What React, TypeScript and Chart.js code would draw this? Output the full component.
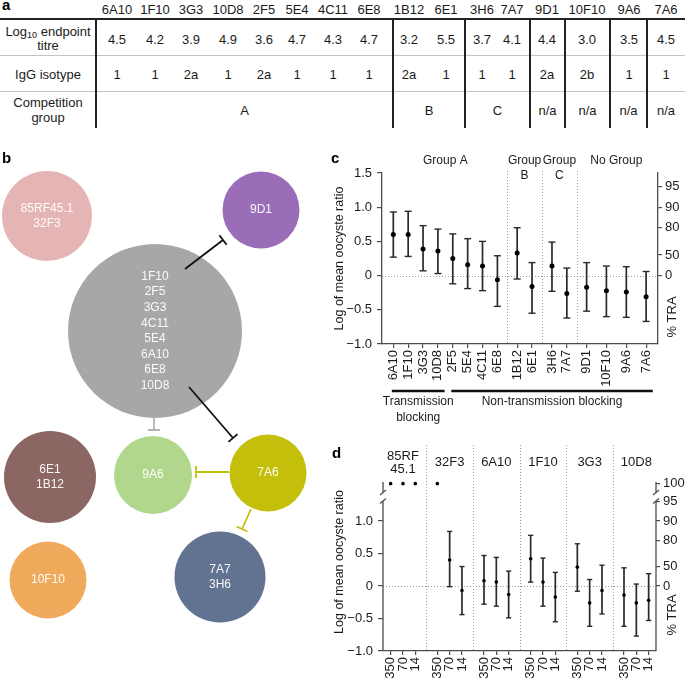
import React, { useEffect, useRef } from "react";
import { Chart, registerables } from "chart.js";

Chart.register(...registerables);

const FONT = "'Liberation Sans', Arial, Helvetica, sans-serif";
const INK = "#1b1b1b";
const BAR_INK = "#2a2a2a";
const AXIS_COLOR = "#4d4d4d";
const DOT_COLOR = "#9a9a9a";

/* ---------------- panel a : table ---------------- */
const tableAntibodies = ["6A10", "1F10", "3G3", "10D8", "2F5", "5E4", "4C11", "6E8", "1B12", "6E1", "3H6", "7A7", "9D1", "10F10", "9A6", "7A6"];
const tableTitre = ["4.5", "4.2", "3.9", "4.9", "3.6", "4.7", "4.3", "4.7", "3.2", "5.5", "3.7", "4.1", "4.4", "3.0", "3.5", "4.5"];
const tableIsotype = ["1", "1", "2a", "1", "2a", "1", "1", "1", "2a", "1", "1", "1", "2a", "2b", "1", "1"];
const competitionGroups = ["A", "B", "C", "n/a", "n/a", "n/a", "n/a"];

/* ---------------- panel b : competition network ---------------- */
const networkLabels = [
  ["85RF45.1", "32F3"],
  ["9D1"],
  ["1F10", "2F5", "3G3", "4C11", "5E4", "6A10", "6E8", "10D8"],
  ["6E1", "1B12"],
  ["9A6"],
  ["7A6"],
  ["10F10"],
  ["7A7", "3H6"],
];
const networkColors = ["#e5b4b4", "#9a6db9", "#a7a7a7", "#8b6662", "#b1d78c", "#c4bf0b", "#f0aa5c", "#627291"];

/* ---------------- panel c : single antibodies ---------------- */
const cAntibodies = ["6A10", "1F10", "3G3", "10D8", "2F5", "5E4", "4C11", "6E8", "1B12", "6E1", "3H6", "7A7", "9D1", "10F10", "9A6", "7A6"];
const cMean = [0.6, 0.6, 0.39, 0.36, 0.25, 0.16, 0.14, -0.06, 0.33, -0.16, 0.14, -0.26, -0.17, -0.22, -0.24, -0.31];
const cLow = [0.27, 0.28, 0.07, 0.03, -0.12, -0.19, -0.22, -0.45, -0.05, -0.55, -0.23, -0.62, -0.52, -0.6, -0.61, -0.67];
const cHigh = [0.93, 0.94, 0.73, 0.68, 0.61, 0.54, 0.5, 0.29, 0.7, 0.19, 0.49, 0.11, 0.19, 0.14, 0.13, 0.06];
const cPositions = [0, 1, 2, 3, 4, 5, 6, 7, 8.33, 9.33, 10.67, 11.67, 13, 14.33, 15.67, 17];
const cGroupNames = [["Group A"], ["Group", "B"], ["Group", "C"], ["No Group"]];
const cGroupSizes = [8, 2, 2, 4];
const cBlockingNames = [["Transmission", "blocking"], ["Non-transmission blocking"]];
const cBlockingSizes = [4, 12];
const cLeftTicks = [-1, -0.5, 0, 0.5, 1, 1.5];
const cTraTicks = [0, 50, 80, 90, 95];

/* ---------------- panel d : dose response ---------------- */
const dGroupNames = [["85RF", "45.1"], ["32F3"], ["6A10"], ["1F10"], ["3G3"], ["10D8"]];
const dDoses = ["350", "70", "14"];
const dMean = [null, null, null, null, 0.4, -0.07, 0.08, 0.06, -0.13, 0.42, 0.06, -0.17, 0.29, -0.26, -0.07, -0.14, -0.26, -0.22];
const dLow = [null, null, null, null, -0.01, -0.44, -0.28, -0.31, -0.49, 0.06, -0.31, -0.55, -0.08, -0.62, -0.43, -0.62, -0.77, -0.53];
const dHigh = [null, null, null, null, 0.84, 0.3, 0.47, 0.44, 0.23, 0.78, 0.43, 0.21, 0.65, 0.1, 0.32, 0.28, 0.03, 0.19];
const dFullBlock = [true, true, true, true, false, false, false, false, false, false, false, false, false, false, false, false, false, false];
const dPositions = [0, 1, 2, 3.785, 4.785, 5.785, 7.57, 8.57, 9.57, 11.355, 12.355, 13.355, 15.14, 16.14, 17.14, 18.925, 19.925, 20.925];
const dLeftTicks = [-1, -0.5, 0, 0.5, 1];
const dTraTicks = [0, 50, 80, 90, 95, 100];

/* ---------------- layout constants ---------------- */
const TABLE = {
  colX: [117, 155, 191, 228, 264, 297, 333, 369, 409, 446, 482, 512, 547, 587, 629, 666],
  dividers: [96, 393, 465, 530, 565, 610, 647],
  right: 685,
  headerY: 9,
  ruleY: 19,
  row1Y: 39,
  row2Y: 74,
  row3Y: 109.5,
  sep1: 55,
  sep2: 91,
  bottom: 128,
  labelX: 48,
};

const B_BOX = { left: 0, top: 140, width: 320, height: 539 };
const B_NODES = [
  { x: 47, y: 216, r: 45 },
  { x: 261, y: 210, r: 38.5 },
  { x: 155, y: 331, r: 87 },
  { x: 50, y: 477, r: 46 },
  { x: 153, y: 475, r: 39 },
  { x: 268, y: 473, r: 38.5 },
  { x: 48, y: 580, r: 38.5 },
  { x: 220, y: 577, r: 45.5 },
];
const B_EDGES = [
  { x1: 185, y1: 269, x2: 223, y2: 240, color: "#111111" },
  { x1: 189, y1: 387, x2: 233, y2: 438, color: "#111111" },
  { x1: 154, y1: 417, x2: 154, y2: 430, color: "#b3b3b3" },
  { x1: 229, y1: 472, x2: 196, y2: 472, color: "#c4bf0b" },
  { x1: 251, y1: 509, x2: 242, y2: 529, color: "#c4bf0b" },
];

const C_BOX = { left: 325, top: 140, width: 360, height: 290 };
const C_AREA = { left: 57, right: 333, top: 33, bottom: 204 };
const D_BOX = { left: 325, top: 430, width: 360, height: 249 };
const D_AREA = { left: 58, right: 331, top: 15, bottom: 221 };
const D_FULL = 1.575;
const D_BREAK_LOW = 1.31;
const D_BREAK_HIGH = 1.44;
const D_AXIS_TOP = 1.6;

function fmtLog(v: number) {
  if (Math.abs(v) < 1e-9) return "0";
  return (v < 0 ? "\u2212" : "") + Math.abs(v).toFixed(1);
}

function traToLog(p: number, top: number) {
  return p >= 100 ? top : -Math.log10(1 - p / 100);
}

function rotText(ctx: CanvasRenderingContext2D, text: string, x: number, y: number, size: number) {
  ctx.save();
  ctx.translate(x, y);
  ctx.rotate(-Math.PI / 2);
  ctx.font = `${size}px ${FONT}`;
  ctx.textAlign = "center";
  ctx.textBaseline = "middle";
  ctx.fillStyle = INK;
  ctx.fillText(text, 0, 0);
  ctx.restore();
}

function dotted(ctx: CanvasRenderingContext2D, x1: number, y1: number, x2: number, y2: number) {
  ctx.beginPath();
  ctx.moveTo(x1, y1);
  ctx.lineTo(x2, y2);
  ctx.stroke();
}

type ErrSpec = {
  canvas: HTMLCanvasElement;
  box: { width: number; height: number };
  area: { left: number; right: number; top: number; bottom: number };
  positions: number[];
  labels: string[];
  mean: (number | null)[];
  low: (number | null)[];
  high: (number | null)[];
  full?: boolean[];
  xMin: number;
  xMax: number;
  yMin: number;
  yMax: number;
  leftTicks: number[];
  traTicks: number[];
  showYBorder: boolean;
  dotR: number;
  capR: number;
  barW: number;
  decor: any;
};

function errorChart(s: ErrSpec) {
  const idx = s.positions.map((_, i) => i).filter((i) => s.mean[i] != null);
  const datasets: any[] = [
    {
      type: "bar",
      data: idx.map((i) => ({ x: s.positions[i], y: [s.low[i], s.high[i]] })),
      backgroundColor: BAR_INK,
      barThickness: s.barW,
      borderWidth: 0,
      inflateAmount: 0,
      order: 3,
    },
    {
      type: "scatter",
      data: idx.flatMap((i) => [
        { x: s.positions[i], y: s.low[i] },
        { x: s.positions[i], y: s.high[i] },
      ]),
      pointStyle: "line",
      pointRadius: s.capR,
      pointHoverRadius: s.capR,
      borderColor: BAR_INK,
      borderWidth: 1.4,
      order: 2,
    },
    {
      type: "scatter",
      data: idx.map((i) => ({ x: s.positions[i], y: s.mean[i] })),
      pointRadius: s.dotR,
      pointHoverRadius: s.dotR,
      backgroundColor: "#000",
      borderWidth: 0,
      order: 1,
    },
  ];
  if (s.full) {
    datasets.push({
      type: "scatter",
      data: s.positions.map((x, i) => (s.full![i] ? { x, y: D_FULL } : null)).filter(Boolean),
      pointRadius: s.dotR,
      pointHoverRadius: s.dotR,
      backgroundColor: "#000",
      borderWidth: 0,
      order: 1,
    });
  }
  const traVals = s.traTicks.map((p) => traToLog(p, D_FULL));
  const tickFont = { family: FONT, size: 13 };
  const gridCommon = { drawOnChartArea: false, drawTicks: true, color: AXIS_COLOR, lineWidth: 1.2 };
  return new Chart(s.canvas, {
    type: "bar",
    data: { datasets },
    options: {
      responsive: false,
      animation: false,
      events: [],
      devicePixelRatio: 1,
      layout: { autoPadding: false, padding: { top: s.area.top, left: 0, right: 0, bottom: 0 } },
      plugins: { legend: { display: false }, tooltip: { enabled: false } },
      scales: {
        x: {
          type: "linear",
          min: s.xMin,
          max: s.xMax,
          offset: false,
          grid: { ...gridCommon, tickLength: 4, offset: false },
          border: { display: true, color: AXIS_COLOR, width: 1.3 },
          ticks: {
            autoSkip: false,
            minRotation: 90,
            maxRotation: 90,
            padding: 2,
            color: INK,
            font: tickFont,
            callback: (_v: any, i: number) => s.labels[i],
          },
          afterBuildTicks: (sc: any) => {
            sc.ticks = s.positions.map((v) => ({ value: v }));
          },
          afterFit: (sc: any) => {
            sc.height = s.box.height - s.area.bottom;
          },
        },
        y: {
          type: "linear",
          position: "left",
          min: s.yMin,
          max: s.yMax,
          grid: { ...gridCommon, tickLength: 5 },
          border: { display: s.showYBorder, color: AXIS_COLOR, width: 1.3 },
          ticks: { padding: 5, color: INK, font: tickFont, callback: (v: any) => fmtLog(Number(v)) },
          afterBuildTicks: (sc: any) => {
            sc.ticks = s.leftTicks.map((v) => ({ value: v }));
          },
          afterFit: (sc: any) => {
            sc.width = s.area.left;
          },
        },
        y2: {
          type: "linear",
          position: "right",
          min: s.yMin,
          max: s.yMax,
          grid: { ...gridCommon, tickLength: 4 },
          border: { display: s.showYBorder, color: AXIS_COLOR, width: 1.3 },
          ticks: { padding: 3, color: INK, font: tickFont, callback: (_v: any, i: number) => String(s.traTicks[i]) },
          afterBuildTicks: (sc: any) => {
            sc.ticks = traVals.map((v) => ({ value: v }));
          },
          afterFit: (sc: any) => {
            sc.width = s.box.width - s.area.right;
          },
        },
      },
    } as any,
    plugins: [s.decor],
  });
}

function makePanelC(canvas: HTMLCanvasElement) {
  const seps: number[] = [];
  let acc = 0;
  cGroupSizes.forEach((n, g) => {
    acc += n;
    if (g < cGroupSizes.length - 1) seps.push((cPositions[acc - 1] + cPositions[acc]) / 2);
  });
  const decor = {
    id: "decorC",
    beforeDatasetsDraw(chart: any) {
      const { ctx, chartArea: ca, scales } = chart;
      const { x, y } = scales;
      ctx.save();
      ctx.strokeStyle = DOT_COLOR;
      ctx.lineWidth = 1;
      ctx.setLineDash([1, 2]);
      const y0 = Math.round(y.getPixelForValue(0)) + 0.5;
      dotted(ctx, ca.left, y0, ca.right, y0);
      seps.forEach((sv) => {
        const px = Math.round(x.getPixelForValue(sv)) + 0.5;
        dotted(ctx, px, ca.top - 2, px, ca.bottom);
      });
      ctx.restore();
    },
    afterDraw(chart: any) {
      const { ctx, chartArea: ca, scales } = chart;
      const { x } = scales;
      ctx.save();
      ctx.fillStyle = INK;
      ctx.textAlign = "center";
      ctx.textBaseline = "middle";
      ctx.font = `12px ${FONT}`;
      let start = 0;
      cGroupSizes.forEach((n, g) => {
        const cx = (x.getPixelForValue(cPositions[start]) + x.getPixelForValue(cPositions[start + n - 1])) / 2;
        cGroupNames[g].forEach((t, k) => ctx.fillText(t, cx, 21 + k * 15));
        start += n;
      });
      start = 0;
      ctx.strokeStyle = "#111";
      ctx.lineWidth = 2.6;
      cBlockingSizes.forEach((n, g) => {
        const x1 = x.getPixelForValue(cPositions[start] - 0.1);
        const x2 = x.getPixelForValue(cPositions[start + n - 1] + 0.45);
        ctx.beginPath();
        ctx.moveTo(x1, 251);
        ctx.lineTo(x2, 251);
        ctx.stroke();
        ctx.font = `12px ${FONT}`;
        cBlockingNames[g].forEach((t, k) => ctx.fillText(t, (x1 + x2) / 2, 262 + k * 16));
        start += n;
      });
      ctx.restore();
      rotText(ctx, "Log of mean oocyste ratio", 14.5, (ca.top + ca.bottom) / 2, 12.5);
      rotText(ctx, "% TRA", 347.5, 177, 13);
    },
  };
  return errorChart({
    canvas,
    box: C_BOX,
    area: C_AREA,
    positions: cPositions,
    labels: cAntibodies,
    mean: cMean,
    low: cLow,
    high: cHigh,
    xMin: -0.76,
    xMax: 17.8,
    yMin: -1,
    yMax: 1.5,
    leftTicks: cLeftTicks,
    traTicks: cTraTicks,
    showYBorder: true,
    dotR: 2.5,
    capR: 3.5,
    barW: 1.7,
    decor,
  });
}

function makePanelD(canvas: HTMLCanvasElement) {
  const seps: number[] = [];
  for (let g = 0; g < dGroupNames.length - 1; g++) {
    seps.push((dPositions[g * 3 + 2] + dPositions[g * 3 + 3]) / 2);
  }
  const labels = dPositions.map((_, i) => dDoses[i % dDoses.length]);
  const decor = {
    id: "decorD",
    beforeDatasetsDraw(chart: any) {
      const { ctx, chartArea: ca, scales } = chart;
      const { x, y } = scales;
      ctx.save();
      ctx.strokeStyle = DOT_COLOR;
      ctx.lineWidth = 1;
      ctx.setLineDash([1, 2]);
      const y0 = Math.round(y.getPixelForValue(0)) + 0.5;
      dotted(ctx, ca.left, y0, ca.right, y0);
      seps.forEach((sv) => {
        const px = Math.round(x.getPixelForValue(sv)) + 0.5;
        dotted(ctx, px, ca.top, px, ca.bottom);
      });
      ctx.restore();
    },
    afterDraw(chart: any) {
      const { ctx, chartArea: ca, scales } = chart;
      const { x, y } = scales;
      ctx.save();
      ctx.strokeStyle = AXIS_COLOR;
      ctx.lineWidth = 1.3;
      const pBottom = y.getPixelForValue(-1);
      const pLo = y.getPixelForValue(D_BREAK_LOW);
      const pHi = y.getPixelForValue(D_BREAK_HIGH);
      const pTop = y.getPixelForValue(D_AXIS_TOP);
      [ca.left, ca.right].forEach((px: number) => {
        ctx.beginPath();
        ctx.moveTo(px, pBottom);
        ctx.lineTo(px, pLo);
        ctx.moveTo(px, pHi);
        ctx.lineTo(px, pTop);
        ctx.stroke();
        [pLo, pHi].forEach((p: number) => {
          ctx.beginPath();
          ctx.moveTo(px - 3, p + 2.5);
          ctx.lineTo(px + 3, p - 2.5);
          ctx.stroke();
        });
      });
      ctx.fillStyle = INK;
      ctx.textAlign = "center";
      ctx.textBaseline = "middle";
      ctx.font = `13px ${FONT}`;
      dGroupNames.forEach((lines, g) => {
        const cx = x.getPixelForValue(dPositions[g * 3 + 1]);
        if (lines.length === 1) ctx.fillText(lines[0], cx, 32);
        else lines.forEach((t, k) => ctx.fillText(t, cx, 26 + k * 13));
      });
      ctx.restore();
      rotText(ctx, "Log of mean oocyste ratio", 14.5, 132, 12.5);
      rotText(ctx, "% TRA", 347.5, 185, 13);
    },
  };
  return errorChart({
    canvas,
    box: D_BOX,
    area: D_AREA,
    positions: dPositions,
    labels,
    mean: dMean,
    low: dLow,
    high: dHigh,
    full: dFullBlock,
    xMin: -0.62,
    xMax: 21.52,
    yMin: -1,
    yMax: 2.17,
    leftTicks: dLeftTicks,
    traTicks: dTraTicks,
    showYBorder: false,
    dotR: 1.8,
    capR: 2.6,
    barW: 1.7,
    decor,
  });
}

function makeNetwork(canvas: HTMLCanvasElement) {
  const decor = {
    id: "decorB",
    afterDatasetsDraw(chart: any) {
      const { ctx, scales } = chart;
      const { x, y } = scales;
      ctx.save();
      ctx.lineWidth = 1.8;
      B_EDGES.forEach((e) => {
        const x1 = x.getPixelForValue(e.x1);
        const y1 = y.getPixelForValue(e.y1);
        const x2 = x.getPixelForValue(e.x2);
        const y2 = y.getPixelForValue(e.y2);
        const len = Math.hypot(x2 - x1, y2 - y1);
        const px = (-(y2 - y1) / len) * 6;
        const py = ((x2 - x1) / len) * 6;
        ctx.strokeStyle = e.color;
        ctx.beginPath();
        ctx.moveTo(x1, y1);
        ctx.lineTo(x2, y2);
        ctx.moveTo(x2 - px, y2 - py);
        ctx.lineTo(x2 + px, y2 + py);
        ctx.stroke();
      });
      ctx.fillStyle = "rgba(255,255,255,0.94)";
      ctx.font = `12px ${FONT}`;
      ctx.textAlign = "center";
      ctx.textBaseline = "middle";
      const meta = chart.getDatasetMeta(0);
      meta.data.forEach((el: any, i: number) => {
        const lines = networkLabels[i];
        lines.forEach((t, k) => ctx.fillText(t, el.x, el.y + (k - (lines.length - 1) / 2) * 15.6));
      });
      ctx.restore();
    },
  };
  return new Chart(canvas, {
    type: "bubble",
    data: {
      datasets: [
        {
          data: B_NODES.map((n) => ({ x: n.x, y: n.y, r: n.r })),
          backgroundColor: networkColors,
          borderWidth: 0,
          hoverRadius: 0,
          hoverBorderWidth: 0,
        },
      ],
    },
    options: {
      responsive: false,
      animation: false,
      events: [],
      devicePixelRatio: 1,
      layout: { autoPadding: false, padding: 0 },
      plugins: { legend: { display: false }, tooltip: { enabled: false } },
      scales: {
        x: { type: "linear", display: false, min: B_BOX.left, max: B_BOX.left + B_BOX.width },
        y: { type: "linear", display: false, min: B_BOX.top, max: B_BOX.top + B_BOX.height, reverse: true },
      },
    } as any,
    plugins: [decor],
  });
}

const Txt = ({ x, y, children, size = 13, lh }: { x: number; y: number; children: any; size?: number; lh?: number }) => (
  <div
    style={{
      position: "absolute",
      left: x,
      top: y,
      transform: "translate(-50%, -50%)",
      fontSize: size,
      lineHeight: lh ? `${lh}px` : 1,
      whiteSpace: "nowrap",
      textAlign: "center",
      color: INK,
      fontFamily: FONT,
    }}
  >
    {children}
  </div>
);

const Letter = ({ x, y, t }: { x: number; y: number; t: string }) => (
  <div style={{ position: "absolute", left: x, top: y, fontSize: 15, lineHeight: "15px", fontWeight: 700, fontFamily: FONT, color: "#000" }}>{t}</div>
);

export default function App() {
  const bRef = useRef<HTMLCanvasElement>(null);
  const cRef = useRef<HTMLCanvasElement>(null);
  const dRef = useRef<HTMLCanvasElement>(null);

  useEffect(() => {
    const charts: Chart[] = [];
    if (bRef.current) charts.push(makeNetwork(bRef.current));
    if (cRef.current) charts.push(makePanelC(cRef.current));
    if (dRef.current) charts.push(makePanelD(dRef.current));
    return () => charts.forEach((c) => c.destroy());
  }, []);

  const bounds = [...TABLE.dividers, TABLE.right];

  return (
    <div
      style={{
        position: "absolute",
        left: 0,
        top: 0,
        width: 685,
        height: 679,
        background: "#fff",
        overflow: "hidden",
        fontFamily: FONT,
        color: INK,
      }}
    >
      {/* panel a table */}
      <div style={{ position: "absolute", left: 0, top: TABLE.ruleY - 1, width: TABLE.right, height: 2, background: "#222" }} />
      <div style={{ position: "absolute", left: 0, top: TABLE.sep1, width: TABLE.right, height: 1, background: "#c4c4c4" }} />
      <div style={{ position: "absolute", left: 0, top: TABLE.sep2, width: TABLE.right, height: 1, background: "#c4c4c4" }} />
      {TABLE.dividers.map((d, i) => (
        <div key={"dv" + i} style={{ position: "absolute", left: d - 1, top: TABLE.ruleY, width: 2, height: TABLE.bottom - TABLE.ruleY, background: "#222" }} />
      ))}
      {tableAntibodies.map((t, i) => (
        <Txt key={"h" + i} x={TABLE.colX[i]} y={TABLE.headerY}>{t}</Txt>
      ))}
      {tableTitre.map((t, i) => (
        <Txt key={"t" + i} x={TABLE.colX[i]} y={TABLE.row1Y}>{t}</Txt>
      ))}
      {tableIsotype.map((t, i) => (
        <Txt key={"i" + i} x={TABLE.colX[i]} y={TABLE.row2Y}>{t}</Txt>
      ))}
      {competitionGroups.map((t, i) => (
        <Txt key={"g" + i} x={(bounds[i] + bounds[i + 1]) / 2} y={TABLE.row3Y}>{t}</Txt>
      ))}
      <Txt x={TABLE.labelX} y={TABLE.row1Y} lh={14}>
        Log<sub style={{ fontSize: 9, lineHeight: 0, verticalAlign: "-2px" }}>10</sub> endpoint
        <br />
        titre
      </Txt>
      <Txt x={TABLE.labelX} y={TABLE.row2Y}>IgG isotype</Txt>
      <Txt x={TABLE.labelX} y={TABLE.row3Y} lh={15}>
        Competition
        <br />
        group
      </Txt>

      <canvas
        ref={bRef}
        width={B_BOX.width}
        height={B_BOX.height}
        style={{ position: "absolute", left: B_BOX.left, top: B_BOX.top, width: B_BOX.width, height: B_BOX.height }}
      />
      <canvas
        ref={cRef}
        width={C_BOX.width}
        height={C_BOX.height}
        style={{ position: "absolute", left: C_BOX.left, top: C_BOX.top, width: C_BOX.width, height: C_BOX.height }}
      />
      <canvas
        ref={dRef}
        width={D_BOX.width}
        height={D_BOX.height}
        style={{ position: "absolute", left: D_BOX.left, top: D_BOX.top, width: D_BOX.width, height: D_BOX.height }}
      />

      <Letter x={2} y={-3} t="a" />
      <Letter x={2} y={150} t="b" />
      <Letter x={331} y={150} t="c" />
      <Letter x={332} y={445} t="d" />
    </div>
  );
}
